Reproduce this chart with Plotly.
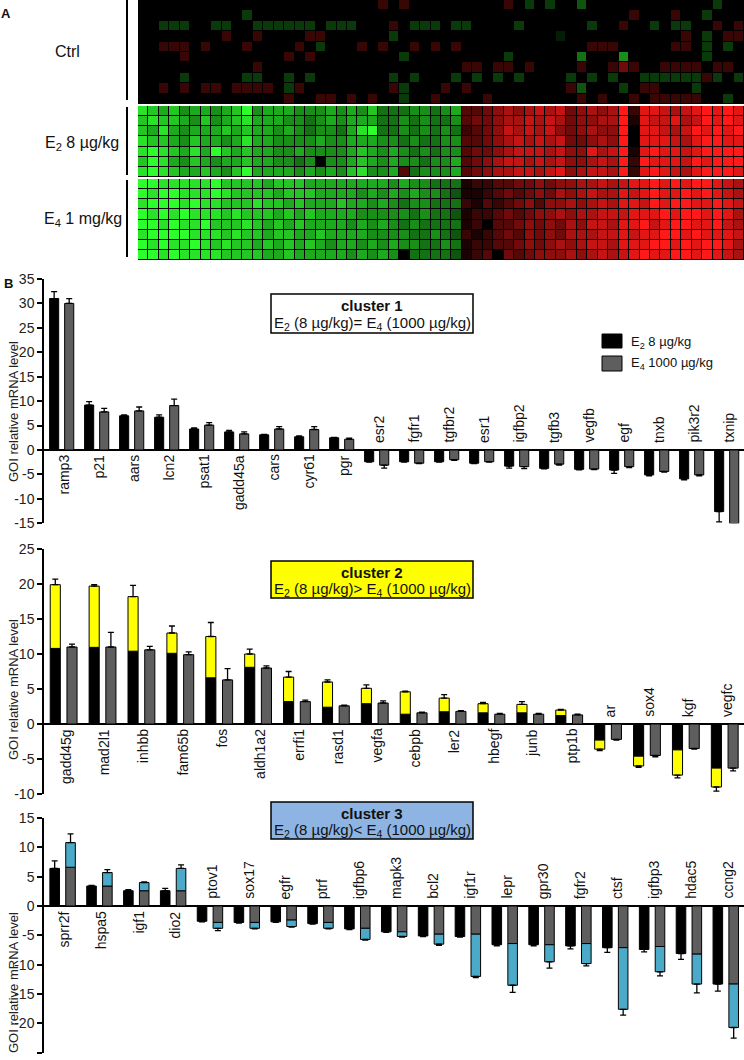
import plotly.graph_objects as go

W, H = 744, 1060
FONT = "Liberation Sans, Arial, Helvetica, sans-serif"

# ---------------- Panel A: heat map ----------------
# digits = green intensity 0-9, letters a-i = red intensity 1-9
CTRL_ROWS = [
    "0000000000 0000000000 000b0b0000 00000b0202 0030000000 00000200",
    "0000000000 2000000000 0000000000 0000000000 0000000b00 0b002000",
    "0022200220 0222222022 2000b02220 2200002000 000200b002 02200b0b",
    "00000000b0 0b0000bb00 0000200000 0000000000 1000000000 00b020bb",
    "00bbb0b000 b0000b0200 0b0b00b0b0 b000000000 000bbb0000 0bb02020",
    "0000b00000 0000b0b000 0000020000 0000020000 0040005000 00002000",
    "0000000000 0b00000000 0000000000 0bb0bb0b00 00b00bdb00 bbbb0bb0",
    "0000200000 2200202000 0000202000 2020202000 0202020022 2222b202",
    "00b0b0bb0b bbb02b0000 0000b2000b 0b00000000 0b300020bb 00020000",
    "0000000000 0000b00bb0 b0b00200b0 000b000000 00b0b00b0b bbbb0020",
]
E2_GREEN = [
    "87675 66567 95666 55565 65744 45545 6",
    "78776 57567 86665 54565 66644 54544 5",
    "76865 66676 76656 54554 68944 54545 4",
    "87765 76656 86655 55655 66655 45445 5",
    "89876 86976 76655 65555 67656 54545 5",
    "79865 76566 76655 45055 67656 55455 6",
    "89876 67657 96666 56565 78556 c4555 6",
]
E2_RED = [
    "ccdef efgfg defef ibhhg fghih ih",
    "cddef fgfgf deeff iahgg hfgih ih",
    "bcdeg fgfge defee i0hhg fgihi hi",
    "ccdef gfgfg ddefe i0hhh gfhii hh",
    "cddef gggfg eehfg iahih hghii ii",
    "cdefg gfgfg eefgf ibihh hgihi ii",
    "cdeff ggfgh efggf ibhih gfhii ih",
]
E4_GREEN = [
    "99888 88977 77677 76666 66665 65544 4",
    "98998 88987 77767 77666 65656 56554 3",
    "89998 98877 78776 76667 66565 45544 4",
    "98989 88878 77767 67666 65555 54544 3",
    "99898 89777 87676 76666 56565 45444 4",
    "89999 88878 77677 66766 66555 54454 3",
    "98988 98787 76767 67656 65656 55445 4",
    "99898 88877 77667 66666 56565 04444 3",
]
E4_RED = [
    "abbcc ddede effgf ghhih ihiih gf",
    "aabcd cdedf efgff hghih hihih gf",
    "bacbc decee fefgf hhgih iihhi hg",
    "abbcd cdeef effgg ghhhi hiihi hf",
    "ab0cc deded feggf hhigh iihhi gf",
    "babcd ceded fffgg hghhi ihihh hg",
    "abbcc dedef efggf hhhii hihii hf",
    "abc0d cdeee fefgf ghihh iihih gf",
]
NCOL = 58

# ---------------- Panel B: bar data ----------------
GENES_1 = ["ramp3", "p21", "aars", "lcn2", "psat1", "gadd45a", "cars", "cyr61", "pgr",
           "esr2", "fgfr1", "tgfbr2", "esr1", "igfbp2", "tgfb3", "vegfb", "egf", "tnxb",
           "pik3r2", "txnip"]
E2_1 = [31.0, 9.2, 7.0, 6.7, 4.3, 3.7, 3.1, 2.7, 2.5,
        -2.4, -2.4, -2.4, -2.7, -3.3, -3.75, -3.95, -4.1, -5.1, -5.9, -12.6]
E2_1_SEM = [1.4, 0.7, 0.2, 0.5, 0.2, 0.3, 0.1, 0.2, 0.1,
            0.1, 0.1, 0.1, 0.1, 0.4, 0.1, 0.1, 0.7, 0.2, 0.2, 2.1]
E4_1 = [30.0, 7.8, 8.0, 9.1, 5.1, 3.3, 4.3, 4.2, 2.2,
        -3.1, -2.7, -2.0, -2.4, -3.4, -2.9, -3.9, -3.4, -4.4, -5.1, -15.1]
E4_1_SEM = [1.0, 0.7, 0.8, 1.3, 0.5, 0.4, 0.5, 0.6, 0.2,
            0.6, 0.1, 0.1, 0.1, 0.4, 0.2, 0.1, 0.2, 0.1, 0.2, 0.1]

GENES_2 = ["gadd45g", "mad2l1", "inhbb", "fam65b", "fos", "aldh1a2", "errfi1", "rasd1",
           "vegfa", "cebpb", "ler2", "hbegf", "junb", "ptp1b", "ar", "sox4", "kgf", "vegfc"]
E2_2 = [19.9, 19.7, 18.2, 13.0, 12.5, 10.0, 6.7, 6.0, 5.1, 4.6, 3.7, 2.9, 2.8, 2.0,
        -3.6, -6.0, -7.3, -9.0]
E2_2_SHARED = [10.8, 10.95, 10.4, 10.1, 6.6, 8.1, 3.2, 2.4, 2.9, 1.4, 1.75, 1.6, 1.6, 1.2,
               -2.3, -4.6, -3.7, -6.3]
E2_2_SEM = [0.8, 0.2, 1.6, 1.0, 2.0, 0.7, 0.8, 0.3, 0.5, 0.1, 0.5, 0.2, 0.4, 0.1,
            0.2, 0.2, 0.4, 0.6]
E4_2 = [11.0, 11.0, 10.6, 9.9, 6.3, 8.0, 3.2, 2.6, 3.0, 1.6, 1.8, 1.4, 1.4, 1.3,
        -2.2, -4.5, -3.5, -6.3]
E4_2_SEM = [0.4, 2.1, 0.5, 0.4, 1.6, 0.3, 0.2, 0.1, 0.3, 0.1, 0.1, 0.1, 0.1, 0.1,
            0.1, 0.2, 0.1, 0.4]

GENES_3 = ["sprr2f", "hspa5", "igf1", "dio2", "ptov1", "sox17", "egfr", "ptrf", "igfbp6",
           "mapk3", "bcl2", "igf1r", "lepr", "gpr30", "fgfr2", "ctsf", "igfbp3", "hdac5", "ccng2"]
E2_3 = [6.4, 3.4, 2.6, 2.6, -2.6, -2.8, -2.7, -3.0, -3.9,
        -4.4, -5.1, -5.2, -6.6, -6.6, -6.8, -7.1, -7.4, -8.1, -13.3]
E2_3_SEM = [1.3, 0.1, 0.2, 0.4, 0.1, 0.1, 0.1, 0.1, 0.1,
            0.1, 0.1, 0.1, 0.2, 0.2, 0.5, 0.8, 0.4, 1.0, 1.2]
E4_3 = [10.8, 5.7, 4.0, 6.4, -3.8, -3.8, -3.5, -3.8, -5.7,
        -5.2, -6.5, -12.0, -13.5, -9.5, -9.8, -17.6, -11.2, -13.3, -20.7]
E4_3_SHARED = [6.6, 3.4, 2.6, 2.6, -2.8, -2.8, -2.4, -2.8, -3.8,
               -4.4, -4.8, -4.8, -6.4, -6.6, -6.4, -7.1, -6.9, -8.2, -13.3]
E4_3_SEM = [1.5, 0.5, 0.1, 0.6, 0.4, 0.1, 0.1, 0.1, 0.1,
            0.1, 0.2, 0.2, 1.2, 1.1, 0.4, 1.0, 0.7, 1.5, 1.8]

BLACK = "#000000"
GRAY = "#5e5e5e"
YELLOW = "#ffff00"
BLUE = "#4aaac8"
BOX3 = "#8db4e2"


def xp(v):
    return v / W


def yp(v):
    return 1 - v / H


def decode(s):
    out = []
    for ch in s.replace(" ", ""):
        if ch.isdigit():
            out.append(-int(ch))
        else:
            out.append(ord(ch) - 96)
    out = out[:NCOL]
    while len(out) < NCOL:
        out.append(out[-1])
    return out


CTRL_Z = [decode(r) for r in CTRL_ROWS]
E2_Z = [decode(g + r) for g, r in zip(E2_GREEN, E2_RED)]
E4_Z = [decode(g + r) for g, r in zip(E4_GREEN, E4_RED)]

CS = [[0.0, "rgb(45,255,45)"], [0.5, "rgb(0,0,0)"], [1.0, "rgb(255,25,25)"]]

fig = go.Figure()
layout = {}
shapes = []
annotations = []

blocks = [(CTRL_Z, 0, 104), (E2_Z, 106, 177), (E4_Z, 179, 260)]
for i, (z, top, bot) in enumerate(blocks, start=1):
    sx = "" if i == 1 else str(i)
    fig.add_trace(go.Heatmap(z=z, x=list(range(NCOL)), y=list(range(len(z))),
                             colorscale=CS, zmin=-9, zmax=9, showscale=False,
                             xgap=1, ygap=1, hoverinfo="skip",
                             xaxis="x" + sx, yaxis="y" + sx))
    layout["xaxis" + sx] = dict(domain=[xp(138), xp(744)], range=[-0.5, NCOL - 0.5],
                                visible=False, anchor="y" + sx)
    layout["yaxis" + sx] = dict(domain=[yp(bot), yp(top)], range=[len(z) - 0.5, -0.5],
                                visible=False, anchor="x" + sx)
    shapes.append(dict(type="rect", xref="paper", yref="paper", x0=xp(138), x1=xp(744),
                       y0=yp(bot), y1=yp(top), fillcolor="black", line=dict(width=0),
                       layer="below"))

for (a, b) in [(0, 100), (107, 175), (180, 257)]:
    shapes.append(dict(type="line", xref="paper", yref="paper", x0=xp(127), x1=xp(127),
                       y0=yp(b), y1=yp(a), line=dict(color="black", width=2)))

annotations += [
    dict(x=xp(67), y=yp(51), text="Ctrl", font=dict(size=16)),
    dict(x=xp(82), y=yp(143), text="E<sub>2</sub> 8 µg/kg", font=dict(size=16)),
    dict(x=xp(83), y=yp(220), text="E<sub>4</sub> 1 mg/kg", font=dict(size=16)),
    dict(x=xp(6), y=yp(14), text="<b>A</b>", font=dict(size=13)),
    dict(x=xp(8), y=yp(283), text="<b>B</b>", font=dict(size=13)),
]


def err(vals, sems):
    return dict(type="data", symmetric=False,
                array=[s if v > 0 else 0 for v, s in zip(vals, sems)],
                arrayminus=[s if v < 0 else 0 for v, s in zip(vals, sems)],
                color="black", thickness=1.3, width=3)


OFF_A, OFF_B, BW = -0.34, 0.09, 0.26
LINE = dict(color="black", width=1)

panels = [
    (4, GENES_1, (-15, 35), 450, 4.886, 412),
    (5, GENES_2, (-10, 25), 724, 7.0, 690),
    (6, GENES_3, (-25, 15), 906, 5.87, 983),
]

# panel 1
fig.add_trace(go.Bar(x=GENES_1, y=E2_1, offset=OFF_A, width=BW,
                     marker=dict(color=BLACK, line=LINE), error_y=err(E2_1, E2_1_SEM),
                     xaxis="x4", yaxis="y4", hoverinfo="skip"))
fig.add_trace(go.Bar(x=GENES_1, y=E4_1, offset=OFF_B, width=BW,
                     marker=dict(color=GRAY, line=LINE), error_y=err(E4_1, E4_1_SEM),
                     xaxis="x4", yaxis="y4", hoverinfo="skip"))
# panel 2
fig.add_trace(go.Bar(x=GENES_2, y=E2_2_SHARED, offset=OFF_A, width=BW,
                     marker=dict(color=BLACK, line=LINE),
                     xaxis="x5", yaxis="y5", hoverinfo="skip"))
fig.add_trace(go.Bar(x=GENES_2, y=[t - b for t, b in zip(E2_2, E2_2_SHARED)],
                     base=E2_2_SHARED, offset=OFF_A, width=BW,
                     marker=dict(color=YELLOW, line=LINE), error_y=err(E2_2, E2_2_SEM),
                     xaxis="x5", yaxis="y5", hoverinfo="skip"))
fig.add_trace(go.Bar(x=GENES_2, y=E4_2, offset=OFF_B, width=BW,
                     marker=dict(color=GRAY, line=LINE), error_y=err(E4_2, E4_2_SEM),
                     xaxis="x5", yaxis="y5", hoverinfo="skip"))
# panel 3
fig.add_trace(go.Bar(x=GENES_3, y=E2_3, offset=OFF_A, width=BW,
                     marker=dict(color=BLACK, line=LINE), error_y=err(E2_3, E2_3_SEM),
                     xaxis="x6", yaxis="y6", hoverinfo="skip"))
fig.add_trace(go.Bar(x=GENES_3, y=E4_3_SHARED, offset=OFF_B, width=BW,
                     marker=dict(color=GRAY, line=LINE),
                     xaxis="x6", yaxis="y6", hoverinfo="skip"))
fig.add_trace(go.Bar(x=GENES_3, y=[t - b for t, b in zip(E4_3, E4_3_SHARED)],
                     base=E4_3_SHARED, offset=OFF_B, width=BW,
                     marker=dict(color=BLUE, line=LINE), error_y=err(E4_3, E4_3_SEM),
                     xaxis="x6", yaxis="y6", hoverinfo="skip"))

label_vals = {4: E2_1, 5: E2_2, 6: E2_3}
for k, genes, (lo, hi), zero_px, ppu, title_y in panels:
    top_px = zero_px - hi * ppu
    bot_px = zero_px - lo * ppu
    ticks = list(range(lo, hi + 1, 5))
    layout["xaxis%d" % k] = dict(domain=[xp(44), 1.0], range=[-0.5, len(genes) - 0.5],
                                 visible=False, anchor="y%d" % k)
    layout["yaxis%d" % k] = dict(domain=[yp(bot_px), yp(top_px)], range=[lo, hi],
                                 anchor="x%d" % k, tickvals=ticks,
                                 ticktext=[str(t) for t in ticks],
                                 showline=True, linecolor="black", linewidth=1.5,
                                 ticks="outside", ticklen=5, tickwidth=1.5,
                                 tickcolor="black", showgrid=False, zeroline=True,
                                 zerolinecolor="black", zerolinewidth=1.5,
                                 automargin=False,
                                 tickfont=dict(size=14, color="#222222"))
    for g, v in zip(genes, label_vals[k]):
        annotations.append(dict(x=g, y=0, xref="x%d" % k, yref="y%d" % k, text=g,
                                textangle=-90, xanchor="center",
                                yanchor="top" if v > 0 else "bottom",
                                yshift=-3 if v > 0 else 5, xshift=2,
                                font=dict(size=14)))
    annotations.append(dict(x=xp(13), y=yp(title_y), text="GOI relative mRNA level",
                            textangle=-90, font=dict(size=13, color="#222222")))

# cluster boxes
boxes = [
    (294, 333, "white", "<b>cluster 1</b>",
     "E<sub>2</sub> (8 µg/kg)= E<sub>4</sub> (1000 µg/kg)"),
    (561, 598, YELLOW, "<b>cluster 2</b>",
     "E<sub>2</sub> (8 µg/kg)&gt; E<sub>4</sub> (1000 µg/kg)"),
    (802, 839, BOX3, "<b>cluster 3</b>",
     "E<sub>2</sub> (8 µg/kg)&lt; E<sub>4</sub> (1000 µg/kg)"),
]
for top, bot, fill, t1, t2 in boxes:
    shapes.append(dict(type="rect", xref="paper", yref="paper", x0=xp(271), x1=xp(473),
                       y0=yp(bot), y1=yp(top), fillcolor=fill,
                       line=dict(color="black", width=1.5)))
    annotations.append(dict(x=xp(372), y=yp(top + 11), text=t1, font=dict(size=15)))
    annotations.append(dict(x=xp(372), y=yp(bot - 9), text=t2, font=dict(size=15)))

# legend
shapes.append(dict(type="rect", xref="paper", yref="paper", x0=xp(602), x1=xp(622),
                   y0=yp(348), y1=yp(334), fillcolor=BLACK, line=dict(color="black", width=1)))
shapes.append(dict(type="rect", xref="paper", yref="paper", x0=xp(602), x1=xp(622),
                   y0=yp(371), y1=yp(356), fillcolor=GRAY, line=dict(color="black", width=1)))
annotations.append(dict(x=xp(629), y=yp(342), xanchor="left",
                        text="E<sub>2</sub> 8 µg/kg", font=dict(size=13)))
annotations.append(dict(x=xp(629), y=yp(364), xanchor="left",
                        text="E<sub>4</sub> 1000 µg/kg", font=dict(size=13)))

for a in annotations:
    a.setdefault("xref", "paper")
    a.setdefault("yref", "paper")
    a.setdefault("showarrow", False)
    a.setdefault("xanchor", "center")
    a.setdefault("yanchor", "middle")
    f = a.setdefault("font", {})
    f.setdefault("family", FONT)
    f.setdefault("color", "#111111")

fig.update_layout(width=W, height=H, margin=dict(l=0, r=0, t=0, b=0, autoexpand=False),
                  paper_bgcolor="white", plot_bgcolor="white", showlegend=False,
                  barmode="overlay", font=dict(family=FONT),
                  shapes=shapes, annotations=annotations, **layout)

fig.write_html("out.html", config={"displayModeBar": False},
               post_script="document.body.style.margin='0';document.body.style.padding='0';")
